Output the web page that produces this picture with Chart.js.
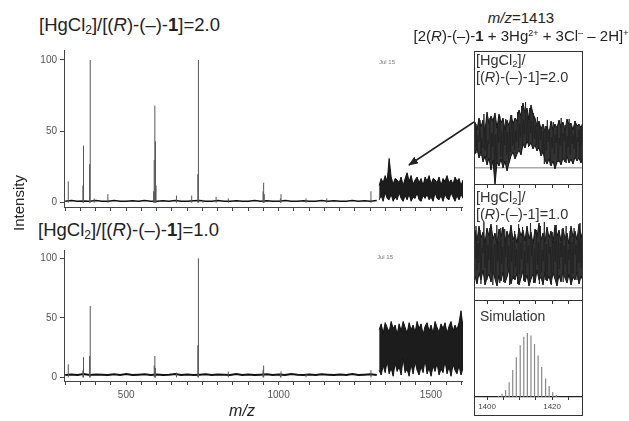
<!DOCTYPE html>
<html lang="en">
<head>
<meta charset="UTF-8">
<title>ESI-MS spectra</title>
<script src="https://cdn.jsdelivr.net/npm/chart.js@4.4.1/dist/chart.umd.min.js"></script>
<style>
  body { margin: 0; background: #fff; font-family: "Liberation Sans", Arial, sans-serif; color: #222; }
  #fig { position: relative; width: 629px; height: 421px; overflow: hidden; }
  #fig canvas, #fig .txt, #fig .box, #fig .sep, #fig svg { position: absolute; }
  .txt { white-space: nowrap; }
  .title { font-size: 18.5px; line-height: 22px; }
  .lab { font-size: 14.5px; line-height: 16.5px; color: #333; z-index: 6; }
  sub { font-size: 65%; vertical-align: -0.25em; line-height: 0; }
  sup { font-size: 60%; vertical-align: 0.55em; line-height: 0; }
  .tiny { font-size: 6px; color: #777; }
  .box { left: 474px; top: 51px; width: 109px; height: 365px; border: 1.5px solid #333; box-sizing: border-box; z-index: 5; }
  .sep { left: 474px; width: 109px; height: 0; border-top: 1.5px solid #333; z-index: 5; }
</style>
</head>
<body>
<div id="fig">
  <canvas id="top" width="463" height="167" style="left:0;top:50px"></canvas>
  <canvas id="bottom" width="463" height="153" style="left:0;top:250px"></canvas>
  <canvas id="in1" width="108" height="137" style="left:475px;top:52px"></canvas>
  <canvas id="in2" width="108" height="120" style="left:475px;top:185px"></canvas>
  <canvas id="in3" width="108" height="115" style="left:475px;top:301px"></canvas>

  <div class="txt title" style="left:39px;top:14px">[HgCl<sub>2</sub>]/[(<i>R</i>)-(–)-<b>1</b>]=2.0</div>
  <div class="txt title" style="left:38px;top:219px">[HgCl<sub>2</sub>]/[(<i>R</i>)-(–)-<b>1</b>]=1.0</div>
  <div class="txt" style="left:-21px;top:193px;width:80px;text-align:center;font-size:15px;line-height:20px;transform:rotate(-90deg)">Intensity</div>
  <div class="txt" style="left:212px;top:402px;width:60px;text-align:center;font-size:16px;line-height:18px"><i>m/z</i></div>
  <div class="txt" style="left:421px;top:9px;width:200px;text-align:center;font-size:15px;line-height:18px"><i>m/z</i>=1413</div>
  <div class="txt" style="left:396px;top:27px;width:250px;text-align:center;font-size:15px;line-height:18px">[2(<i>R</i>)-(–)-<b>1</b> + 3Hg<sup>2+</sup> + 3Cl<sup>–</sup> – 2H]<sup>+</sup></div>
  <div class="txt tiny" style="left:379px;top:59px">Jul 15</div>
  <div class="txt tiny" style="left:377px;top:254px">Jul 15</div>

  <div class="box"></div>
  <div class="sep" style="top:184px"></div>
  <div class="sep" style="top:300px"></div>
  <div class="txt lab" style="left:476px;top:52px">[HgCl<sub>2</sub>]/<br>[(<i>R</i>)-(–)-1]=2.0</div>
  <div class="txt lab" style="left:476px;top:189px">[HgCl<sub>2</sub>]/<br>[(<i>R</i>)-(–)-1]=1.0</div>
  <div class="txt" style="left:480px;top:308px;font-size:14px;line-height:16px;color:#333;z-index:6">Simulation</div>

  <svg width="629" height="421" style="left:0;top:0;z-index:7">
    <defs><marker id="ah" markerUnits="userSpaceOnUse" markerWidth="10" markerHeight="8" refX="9" refY="4" orient="auto"><path d="M0,0 L10,4 L0,8 z" fill="#222"/></marker></defs>
    <line x1="474" y1="122" x2="409" y2="165" stroke="#222" stroke-width="1.5" marker-end="url(#ah)"/>
  </svg>
</div>
<script>
const FONT = '"Liberation Sans", Arial, sans-serif';
const mainMin = 296, mainMax = 1605;
const insetMin = 1396.3, insetMax = 1429.5;
const yTicks = [0, 50, 100];
const insetTicks = [1400, 1405, 1410, 1415, 1420, 1425];
const noiseStart = 1330, noiseEnd = 1605;

// [HgCl2]/[1] = 2.0
const peakMz2 = [310, 358, 360, 380, 382, 395, 440, 590, 592, 594, 596, 598, 665, 715, 735, 737, 752, 795, 835, 949, 951, 953, 1006, 1008, 1090, 1158, 1303];
const peakInt2 = [15, 12, 40, 27, 100, 3, 6, 8, 30, 68, 43, 12, 5, 5, 20, 100, 2, 4, 3, 8, 14, 6, 3, 6, 3, 3, 8];
const base2 = [1, 1.5, 1, 1.2, 1, 1.5, 1, 1, 1.6, 1, 1, 1.3, 1, 1.5, 1, 1, 1.3, 1, 1.5, 1, 1, 1.3, 1.5, 1, 1, 1.5, 1, 1, 1.3, 1, 1, 1.5, 1, 1.3, 1, 1, 1.5, 1, 1, 1.3, 1, 1, 1.5, 1, 1.3, 1, 1, 1.5, 1, 1.3, 1, 1.5];
const noiseHi2 = [12, 17, 14, 19, 15, 31, 18, 13, 17, 16, 14, 18, 12, 17, 21, 15, 19, 13, 16, 18, 14, 17, 12, 18, 15, 19, 13, 17, 16, 14, 18, 12, 17, 15, 19, 14, 16, 13, 18, 15, 17, 12, 16];
const noiseLo2 = [2, 5, 1, 7, 3, 2, 6, 1, 4, 2, 7, 3, 1, 5, 2, 6, 1, 4, 3, 7, 2, 1, 5, 3, 6, 2, 4, 1, 7, 3, 2, 5, 1, 6, 3, 2, 7, 4, 1, 5, 2, 6, 3];

// [HgCl2]/[1] = 1.0
const peakMz1 = [310, 358, 360, 380, 382, 592, 594, 596, 665, 735, 737, 835, 949, 951, 1006, 1008, 1090, 1303];
const peakInt1 = [11, 6, 17, 18, 60, 10, 18, 8, 4, 27, 100, 5, 6, 10, 3, 5, 3, 6];
const base1 = [2, 2.5, 2, 2.8, 2, 2.5, 2.2, 2, 2.6, 2, 2.8, 2, 2.3, 2.6, 2, 2.5, 2, 2.3, 2.8, 2, 2.5, 2, 2.3, 2.6, 2, 2.5, 2.3, 2, 2.8, 2, 2.5, 2, 2.3, 2.6, 2, 2.5, 2, 2.8, 2.3, 2, 2.5, 2, 2.6, 2.3, 2, 2.5, 2, 2.8, 2, 2.3, 2.6, 2];
const noiseHi1 = [40, 45, 37, 46, 42, 38, 47, 41, 44, 36, 45, 39, 47, 42, 37, 46, 40, 44, 38, 47, 41, 45, 36, 43, 46, 39, 44, 37, 47, 42, 38, 45, 41, 46, 37, 43, 47, 39, 44, 40, 46, 56, 42];
const noiseLo1 = [6, 2, 10, 4, 14, 3, 8, 1, 12, 5, 9, 2, 16, 4, 7, 1, 11, 3, 13, 6, 2, 9, 4, 15, 3, 8, 1, 10, 5, 12, 2, 7, 4, 14, 3, 9, 1, 11, 6, 3, 10, 2, 8];

// zoom around m/z 1413: edges of the noise band and the raw trace on top
const zoomHi2 = [46, 38, 50, 41, 48, 36, 56, 44, 52, 47, 55, 40, 54, 45, 50, 38, 48, 42, 53, 44, 50, 47, 58, 52, 65, 55, 60, 48, 63, 54, 50, 42, 47, 39, 44, 36, 42, 34, 47, 38, 44, 40, 48, 41, 46, 37, 49, 43, 45, 38, 47, 42, 44, 40, 46];
const zoomLo2 = [14, 20, 10, 17, 6, 12, 3, 10, -2, 8, -17, 6, 2, 9, 0, 7, -3, 5, 12, 16, 9, 14, 18, 13, 24, 20, 27, 22, 25, 19, 23, 17, 21, 12, 16, 8, 4, 9, 2, 7, -1, 6, 8, 3, 10, 6, 12, 5, 9, 4, 11, 7, 10, 5, 12];
const zoomRaw2 = [22, 44, 15, 33, 26, 48, 12, 30, 20, 54, 18, 44, 10, 28, 24, 50, 8, 35, 21, 47,
  -14, 34, 4, 40, 25, 52, 11, 37, 2, 42, 23, 49, 13, 36, 5, 41, 16, 53, 22, 45,
  18, 38, 26, 56, 20, 44, 30, 62, 24, 48, 33, 66, 27, 52, 21, 60, 35, 47, 25, 55,
  29, 43, 23, 51, 19, 46, 28, 40, 15, 37, 4, 42, 17, 48, 26, 39, 3, 31, 20, 46,
  14, 33, 25, 41, 6, 30, 22, 50, 10, 35, 27, 43, 5, 32, 21, 49, 13, 40, 24, 34,
  19, 47, 11, 31, 26, 39, 8, 42, 23, 33];
const zoomHi1 = [58, 47, 62, 50, 56, 45, 60, 52, 64, 49, 55, 44, 59, 51, 61, 46, 57, 50, 63, 48, 54, 45, 60, 52, 58, 47, 62, 49, 56, 44, 59, 51, 65, 48, 55, 46, 61, 50, 57, 45, 63, 52, 58, 47, 60, 49, 55, 44, 62, 51, 57, 48, 64, 50, 58];
const zoomLo1 = [12, 4, 15, 8, 18, 3, 10, 14, 6, 17, 9, 2, 13, 7, 16, 5, 11, 19, 4, 12, 8, 15, 3, 10, 17, 6, 13, 2, 9, 14, 5, 18, 8, 11, 3, 16, 7, 12, 4, 15, 9, 2, 13, 6, 17, 10, 5, 14, 3, 11, 8, 16, 4, 12, 7];
const zoomRaw1 = [30, 62, 18, 45, 25, 58, 4, 40, 35, 66, 20, 48, 8, 43, 28, 60, 15, 50, 3, 38,
  44, 10, 63, 27, 47, 5, 60, 24, 41, 6, 59, 31, 56, 19, 42, 3, 61, 26, 46, 9,
  57, 21, 39, 4, 64, 14, 45, 29, 61, 7, 37, 11, 60, 25, 43, 7, 65, 32, 48, 5,
  40, 12, 58, 23, 46, 4, 62, 15, 38, 27, 66, 8, 44, 9, 49, 34, 41, 3, 56, 13,
  47, 26, 63, 5, 53, 19, 45, 31, 59, 6, 42, 24, 62, 10, 39, 28, 57, 4, 46, 14,
  60, 33, 43, 8, 51, 25, 65, 20, 48, 35];
const simMz = [1403.5, 1404.6, 1405.7, 1406.8, 1407.9, 1409.0, 1410.2, 1411.3, 1412.4, 1413.5, 1414.6, 1415.7, 1416.8, 1418.0, 1419.1, 1420.2, 1421.3];
const simInt = [2, 5, 11, 23, 42, 62, 81, 94, 100, 96, 83, 65, 47, 29, 17, 8, 3];

function sticks(mz, h) {
  const pts = [];
  mz.forEach((m, i) => { pts.push({x: m, y: 0}, {x: m, y: h[i]}, {x: m, y: null}); });
  return pts;
}
function trace(start, end, vals) {
  const n = vals.length;
  return vals.map((v, i) => ({x: start + i * (end - start) / (n - 1), y: v}));
}
function line(data, color, width) {
  return {data: data, borderColor: color, borderWidth: width, showLine: true, pointRadius: 0, spanGaps: false};
}
// two datasets: lower edge, then upper edge filled down to it
function band(start, end, lo, hi, fillColor) {
  return [
    line(trace(start, end, lo), '#111', 1),
    Object.assign(line(trace(start, end, hi), '#111', 1), {fill: '-1', backgroundColor: fillColor})
  ];
}
const common = {
  responsive: false, animation: false, devicePixelRatio: 1, events: [],
  layout: {padding: 0},
  plugins: {legend: {display: false}, tooltip: {enabled: false}}
};

function mainChart(id, base, baseWidth, lo, hi, mz, h, withLabels) {
  new Chart(document.getElementById(id), {
    type: 'scatter',
    data: {datasets: [
      line(sticks(mz, h), '#555', 1),
      line(trace(300, 1322, base), '#111', baseWidth)
    ].concat(band(noiseStart, noiseEnd, lo, hi, '#1c1c1c'))},
    options: Object.assign({}, common, {
      scales: {
        x: {
          type: 'linear', min: mainMin, max: mainMax,
          border: {color: '#444', width: 1},
          grid: {drawOnChartArea: false, color: '#444', tickLength: 4},
          afterBuildTicks: s => {
            const t = [];
            for (let v = 300; v <= 1600; v += 50) t.push({value: v});
            s.ticks = t;
          },
          ticks: {autoSkip: false, maxRotation: 0, padding: 4, color: '#555', font: {size: 10, family: FONT},
            callback: v => (withLabels && v % 500 === 0 ? String(v) : '')},
          afterFit: s => { s.height = withLabels ? 22 : 10; s.paddingLeft = 0; s.paddingRight = 0; }
        },
        y: {
          min: -3, max: 107,
          border: {color: '#444', width: 1},
          grid: {drawOnChartArea: false, color: '#444', tickLength: 4},
          afterBuildTicks: s => { s.ticks = yTicks.map(v => ({value: v})); },
          ticks: {padding: 3, color: '#555', font: {size: 10, family: FONT}},
          afterFit: s => { s.width = 64; s.paddingTop = 0; s.paddingBottom = 0; }
        }
      }
    })
  });
}

function insetChart(id, datasets, yMin, yMax, withLabels) {
  new Chart(document.getElementById(id), {
    type: 'scatter',
    data: {datasets: datasets},
    options: Object.assign({}, common, {
      scales: {
        x: {
          type: 'linear', min: insetMin, max: insetMax,
          border: {display: withLabels, color: '#222', width: 1.2},
          grid: {drawOnChartArea: false, color: '#333', tickLength: 3},
          afterBuildTicks: s => { s.ticks = insetTicks.map(v => ({value: v})); },
          ticks: {autoSkip: false, maxRotation: 0, padding: 2, color: '#444', font: {size: 8, family: FONT},
            callback: v => (withLabels && v % 20 === 0 ? String(v) : '')},
          afterFit: s => { s.height = withLabels ? 19 : 4; s.paddingLeft = 0; s.paddingRight = 0; }
        },
        y: {
          min: yMin, max: yMax,
          display: !withLabels,
          border: {display: false},
          grid: {color: '#aaa', lineWidth: 1.5, drawTicks: false},
          afterBuildTicks: s => { s.ticks = [{value: 0}]; },
          ticks: {display: false},
          afterFit: s => { s.width = 0; s.paddingTop = 0; s.paddingBottom = 0; }
        }
      }
    })
  });
}

mainChart('top', base2, 1.5, noiseLo2, noiseHi2, peakMz2, peakInt2, false);
mainChart('bottom', base1, 2, noiseLo1, noiseHi1, peakMz1, peakInt1, true);
insetChart('in1', [line(trace(insetMin, insetMax, zoomRaw2), '#222', 0.9)].concat(band(insetMin, insetMax, zoomLo2, zoomHi2, '#333')), -17, 116, false);
insetChart('in2', [line(trace(insetMin, insetMax, zoomRaw1), '#222', 0.9)].concat(band(insetMin, insetMax, zoomLo1, zoomHi1, '#333')), -13, 103, false);
insetChart('in3', [line(sticks(simMz, simInt), '#888', 1.2)], 0, 150, true);
</script>
</body>
</html>
